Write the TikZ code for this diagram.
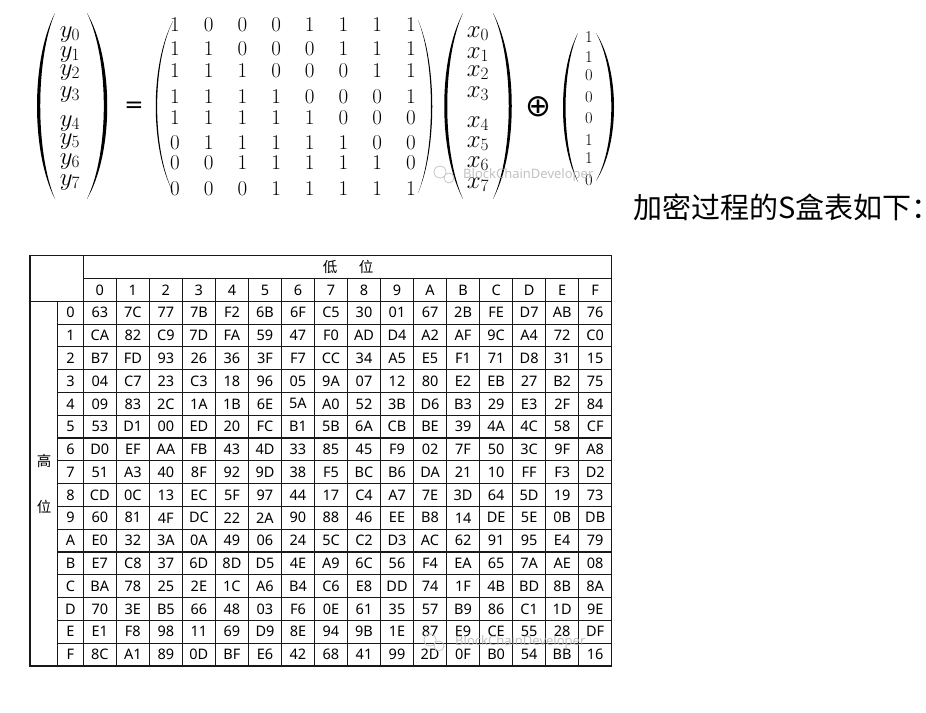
\documentclass[tikz,border=0pt]{standalone}
\usepackage{fontspec}
\setsansfont{Noto Sans}
\newfontfamily\cjkfont{Noto Sans CJK SC}
\newfontfamily\symfont{DejaVu Sans}
\usetikzlibrary{positioning,calc}

\tikzset{
  bit/.style={font=\fontsize{21}{22}\selectfont, inner sep=0pt},
  cbit/.style={font=\fontsize{16.5}{17}\selectfont, inner sep=0pt},
  vecent/.style={font=\fontsize{24}{25}\selectfont, inner sep=0pt, anchor=base},
  cell/.style={font=\sffamily\fontsize{14.5}{16}\selectfont, inner sep=0pt},
  hanzi/.style={font=\cjkfont\fontsize{14.5}{16}\selectfont, inner sep=0pt},
  grid/.style={line width=1.1pt, draw=black!90},
  wmark/.style={font=\sffamily\fontsize{13}{14}\selectfont, text=gray!60, opacity=0.8, inner sep=0pt},
}

% bracket as a filled crescent: x, top, bottom, bulge, inner ratio
\newcommand{\parenfill}[5]{%
  \fill (#1,#2) .. controls ({#1+(#4)},{#2+(#3-#2)*0.25}) and ({#1+(#4)},{#2+(#3-#2)*0.75}) .. (#1,#3)
    .. controls ({#1+(#4)*#5},{#2+(#3-#2)*0.75}) and ({#1+(#4)*#5},{#2+(#3-#2)*0.25}) .. cycle;}

\begin{document}
\begin{tikzpicture}[x=1pt,y=-1pt]
  \useasboundingbox (0,0) rectangle (926,712);

  %equation
  \parenfill{55}{13}{199}{-24}{0.82}
  \parenfill{87}{13}{199}{27}{0.83}
  \foreach \k/\by in {0/37,1/57,2/75,3/97,4/126,5/144,6/164,7/185}
    \node[vecent] (y\k) at (70,\by) {$y_{\k}$};

  \node[font=\symfont\fontsize{23}{23}\selectfont, inner sep=0pt] (eq) at (134,107) {=};

  \parenfill{173}{21}{192}{-23}{0.92}
  \parenfill{418}{20}{193}{19}{0.91}
  \foreach \row/\ry [count=\i from 0] in {
      {1,0,0,0,1,1,1,1}/25, {1,1,0,0,0,1,1,1}/49,
      {1,1,1,0,0,0,1,1}/71, {1,1,1,1,0,0,0,1}/97,
      {1,1,1,1,1,0,0,0}/118, {0,1,1,1,1,1,0,0}/143,
      {0,0,1,1,1,1,1,0}/163, {0,0,0,1,1,1,1,1}/189}
    \foreach \b [count=\j from 0] in \row
      \node[bit] (m\i-\j) at ({175+33.7*\j},\ry) {\b};

  \parenfill{463}{13}{199}{-25}{0.84}
  \parenfill{493}{13}{199}{25}{0.84}
  \foreach \k/\by in {0/37,1/58,2/76,3/97,4/127,5/147,6/167,7/188}
    \node[vecent] (x\k) at (478,\by) {$x_{\k}$};

  \node[font=\symfont\fontsize{31}{31}\selectfont, inner sep=0pt] (xor) at (538,107) {⊕};

  \parenfill{578}{33}{182}{-20}{0.83}
  \parenfill{596}{33}{181}{24}{0.85}
  \foreach \c/\cy [count=\k from 0] in {1/37,1/57,0/75,0/97,0/118,1/140,1/158,0/180}
    \node[cbit] (c\k) at (589,\cy) {\c};

  \node[wmark, anchor=west] (wm1) at (463,175) {BlockChainDeveloper};
  \draw[gray!45, line width=0.8pt] (440,172) circle (6) (449,178) circle (5);

  \node[font=\cjkfont\fontsize{29}{30}\selectfont, inner sep=0pt, anchor=west] (title) at (633,207) {加密过程的S盒表如下：};

  %sbox table
  \def\L{30}\def\Ha{57.7}\def\Hb{83.3}\def\R{611.7}
  \def\T{255.7}\def\Ta{278.5}\def\Tb{301.3}\def\B{666}
  \def\cw{33.025}\def\rh{22.79}
  \draw[grid] (\L,\T) rectangle (\R,\B);
  \draw[grid] (\Hb,\Ta) -- (\R,\Ta);
  \draw[grid] (\L,\Tb) -- (\R,\Tb);
  \foreach \k in {1,...,15}
    \draw[grid] (\Ha,{\Tb+\rh*\k}) -- (\R,{\Tb+\rh*\k});
  \draw[grid] (\Ha,\Tb) -- (\Ha,\B);
  \draw[grid] (\Hb,\T) -- (\Hb,\B);
  \foreach \k in {1,...,15}
    \draw[grid] ({\Hb+\cw*\k},\Ta) -- ({\Hb+\cw*\k},\B);

  \node[hanzi] (lo1) at (330,267) {低};
  \node[hanzi] (lo2) at (366,267) {位};
  \node[hanzi] (hi1) at (44,461) {高};
  \node[hanzi] (hi2) at (44,507) {位};

  \foreach \h [count=\j from 0] in {0,1,2,3,4,5,6,7,8,9,A,B,C,D,E,F} {
    \node[cell] (col\j) at ({\Hb+\cw*(\j+0.5)},{(\Ta+\Tb)/2}) {\h};
    \node[cell] (row\j) at ({(\Ha+\Hb)/2},{\Tb+\rh*(\j+0.5)}) {\h};
  }

  \foreach \row [count=\i from 0] in {
      {63,7C,77,7B,F2,6B,6F,C5,30,01,67,2B,FE,D7,AB,76},
      {CA,82,C9,7D,FA,59,47,F0,AD,D4,A2,AF,9C,A4,72,C0},
      {B7,FD,93,26,36,3F,F7,CC,34,A5,E5,F1,71,D8,31,15},
      {04,C7,23,C3,18,96,05,9A,07,12,80,E2,EB,27,B2,75},
      {09,83,2C,1A,1B,6E,5A,A0,52,3B,D6,B3,29,E3,2F,84},
      {53,D1,00,ED,20,FC,B1,5B,6A,CB,BE,39,4A,4C,58,CF},
      {D0,EF,AA,FB,43,4D,33,85,45,F9,02,7F,50,3C,9F,A8},
      {51,A3,40,8F,92,9D,38,F5,BC,B6,DA,21,10,FF,F3,D2},
      {CD,0C,13,EC,5F,97,44,17,C4,A7,7E,3D,64,5D,19,73},
      {60,81,4F,DC,22,2A,90,88,46,EE,B8,14,DE,5E,0B,DB},
      {E0,32,3A,0A,49,06,24,5C,C2,D3,AC,62,91,95,E4,79},
      {E7,C8,37,6D,8D,D5,4E,A9,6C,56,F4,EA,65,7A,AE,08},
      {BA,78,25,2E,1C,A6,B4,C6,E8,DD,74,1F,4B,BD,8B,8A},
      {70,3E,B5,66,48,03,F6,0E,61,35,57,B9,86,C1,1D,9E},
      {E1,F8,98,11,69,D9,8E,94,9B,1E,87,E9,CE,55,28,DF},
      {8C,A1,89,0D,BF,E6,42,68,41,99,2D,0F,B0,54,BB,16}}
    \foreach \v [count=\j from 0] in \row
      \node[cell] (s\i-\j) at ({\Hb+\cw*(\j+0.5)},{\Tb+\rh*(\i+0.5)}) {\v};

  \node[wmark, anchor=west] (wm2) at (455,642) {BlockChainDeveloper};
  \draw[gray!45, line width=0.8pt] (430,640) circle (6) (439,646) circle (5);
\end{tikzpicture}
\end{document}
